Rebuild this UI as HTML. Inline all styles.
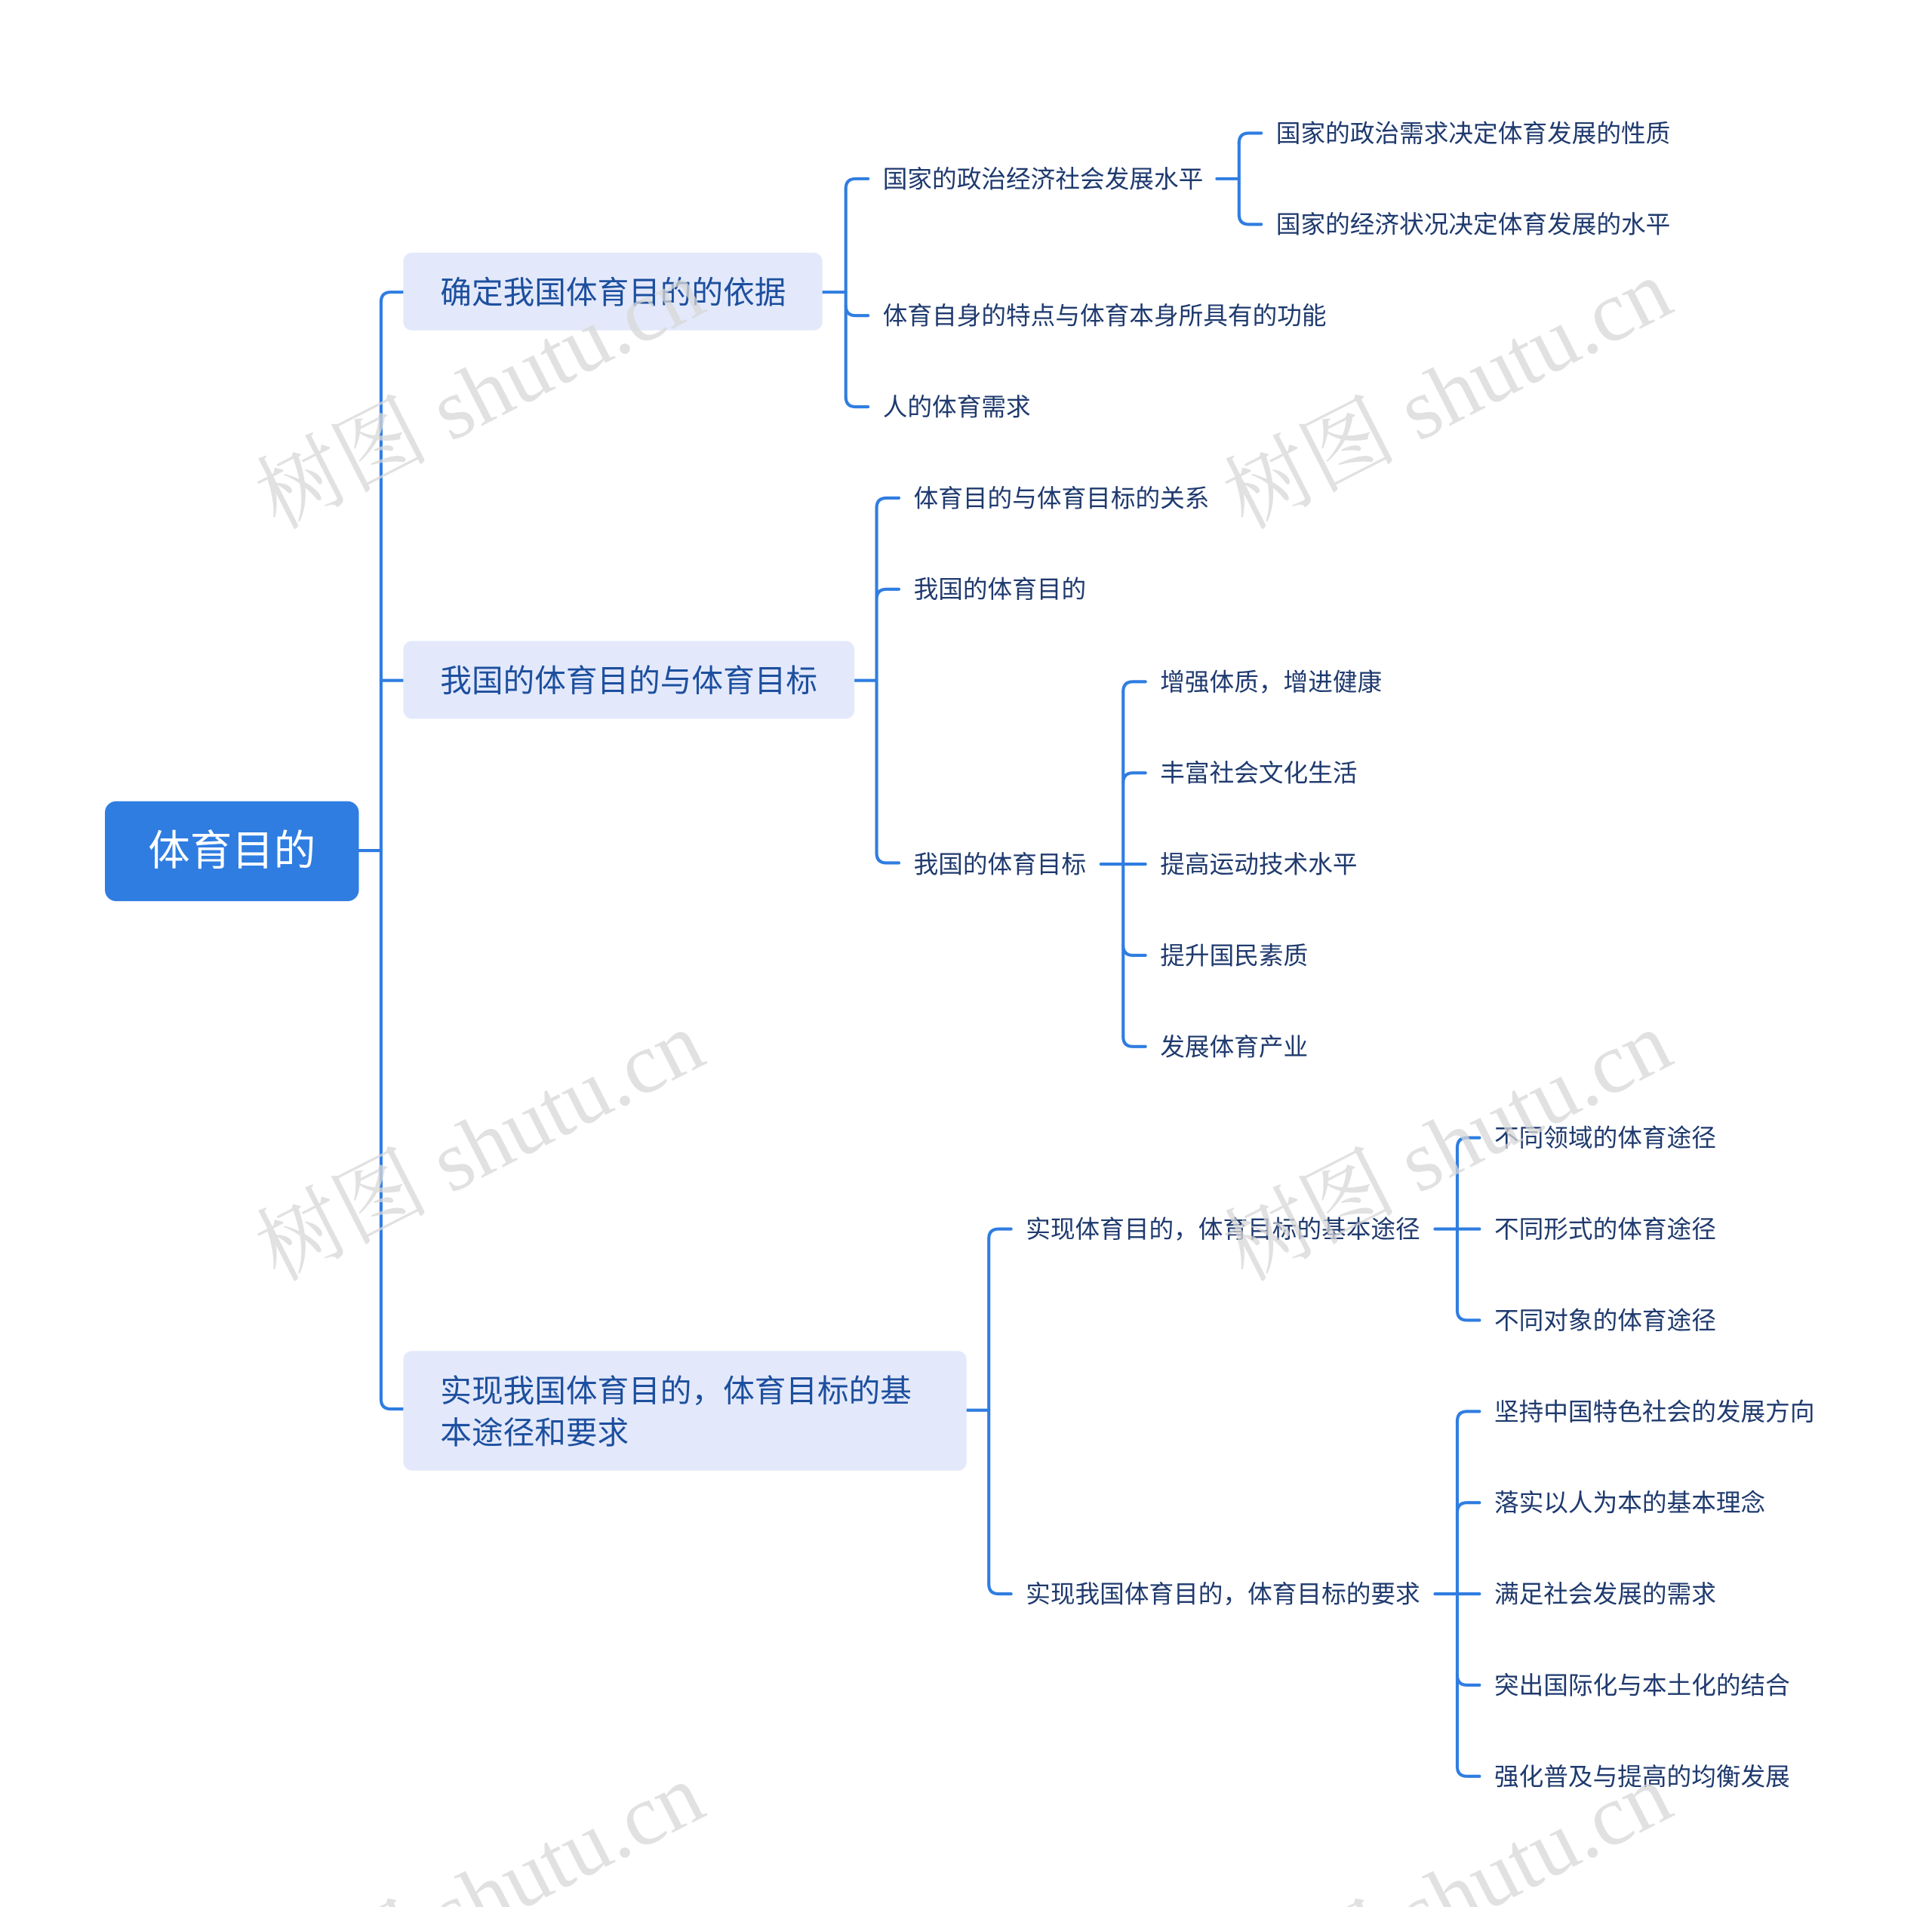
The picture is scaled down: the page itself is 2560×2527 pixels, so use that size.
<!DOCTYPE html>
<html><head><meta charset="utf-8"><style>
html,body{margin:0;padding:0;background:#fff;width:2560px;height:2527px;overflow:hidden;}
svg{display:block;}
text{font-family:"Liberation Sans","Noto Sans CJK SC",sans-serif;}
.l1{font-size:25.5px;fill:#1d4f9e;}
.l2{font-size:20px;fill:#1f3a6e;}
.wm text{font-family:"Liberation Serif","Noto Serif CJK SC",serif;font-size:70px;fill:#d8d8d8;opacity:.75;}
</style></head><body>
<svg width="2560" height="2527" viewBox="0 0 1567 1547" xmlns="http://www.w3.org/2000/svg">
<g fill="none" stroke="#2f7de1" stroke-width="2.5" stroke-linecap="round">
<path d="M291 690 H309"/>
<path d="M309 245 V1135"/>
<path d="M309 245 Q309 237 317 237 H327"/>
<path d="M309 552 H327"/>
<path d="M309 1135 Q309 1143 317 1143 H327"/>
<path d="M667 237 H686"/>
<path d="M686 153 V322"/>
<path d="M686 153 Q686 145 694 145 H704"/>
<path d="M686 248 Q686 256 694 256 H704"/>
<path d="M686 322 Q686 330 694 330 H704"/>
<path d="M987 145 H1005"/>
<path d="M1005 116 V174"/>
<path d="M1005 116 Q1005 108 1013 108 H1023"/>
<path d="M1005 174 Q1005 182 1013 182 H1023"/>
<path d="M693 552 H711"/>
<path d="M711 412 V692"/>
<path d="M711 412 Q711 404 719 404 H729"/>
<path d="M711 486 Q711 478 719 478 H729"/>
<path d="M711 692 Q711 700 719 700 H729"/>
<path d="M893 701 H911"/>
<path d="M911 561 V841"/>
<path d="M911 561 Q911 553 919 553 H929"/>
<path d="M911 635 Q911 627 919 627 H929"/>
<path d="M911 701 H929"/>
<path d="M911 767 Q911 775 919 775 H929"/>
<path d="M911 841 Q911 849 919 849 H929"/>
<path d="M784 1144 H802"/>
<path d="M802 1005 V1285"/>
<path d="M802 1005 Q802 997 810 997 H820"/>
<path d="M802 1285 Q802 1293 810 1293 H820"/>
<path d="M1164 997 H1182"/>
<path d="M1182 931 V1063"/>
<path d="M1182 931 Q1182 923 1190 923 H1200"/>
<path d="M1182 997 H1200"/>
<path d="M1182 1063 Q1182 1071 1190 1071 H1200"/>
<path d="M1164 1293 H1182"/>
<path d="M1182 1153 V1433"/>
<path d="M1182 1153 Q1182 1145 1190 1145 H1200"/>
<path d="M1182 1227 Q1182 1219 1190 1219 H1200"/>
<path d="M1182 1293 H1200"/>
<path d="M1182 1359 Q1182 1367 1190 1367 H1200"/>
<path d="M1182 1433 Q1182 1441 1190 1441 H1200"/>
</g>
<rect x="85" y="650" width="206" height="81" rx="9" fill="#2f7de1"/>
<text x="188" y="702" font-size="34" fill="#fff" text-anchor="middle">体育目的</text>
<rect x="327" y="205" width="340" height="63" rx="7" fill="#e3e9fb"/>
<text class="l1" x="357" y="246">确定我国体育目的的依据</text>
<rect x="327" y="520" width="366" height="63" rx="7" fill="#e3e9fb"/>
<text class="l1" x="357" y="561">我国的体育目的与体育目标</text>
<rect x="327" y="1096" width="457" height="97" rx="7" fill="#e3e9fb"/>
<text class="l1" x="357" y="1137">实现我国体育目的，体育目标的基</text>
<text class="l1" x="357" y="1171">本途径和要求</text>
<g class="l2">
<text x="716" y="152">国家的政治经济社会发展水平</text>
<text x="1035" y="115">国家的政治需求决定体育发展的性质</text>
<text x="1035" y="189">国家的经济状况决定体育发展的水平</text>
<text x="716" y="263">体育自身的特点与体育本身所具有的功能</text>
<text x="716" y="337">人的体育需求</text>
<text x="741" y="411">体育目的与体育目标的关系</text>
<text x="741" y="485">我国的体育目的</text>
<text x="741" y="708">我国的体育目标</text>
<text x="941" y="560">增强体质，增进健康</text>
<text x="941" y="634">丰富社会文化生活</text>
<text x="941" y="708">提高运动技术水平</text>
<text x="941" y="782">提升国民素质</text>
<text x="941" y="856">发展体育产业</text>
<text x="832" y="1004">实现体育目的，体育目标的基本途径</text>
<text x="832" y="1300">实现我国体育目的，体育目标的要求</text>
<text x="1212" y="930">不同领域的体育途径</text>
<text x="1212" y="1004">不同形式的体育途径</text>
<text x="1212" y="1078">不同对象的体育途径</text>
<text x="1212" y="1152">坚持中国特色社会的发展方向</text>
<text x="1212" y="1226">落实以人为本的基本理念</text>
<text x="1212" y="1300">满足社会发展的需求</text>
<text x="1212" y="1374">突出国际化与本土化的结合</text>
<text x="1212" y="1448">强化普及与提高的均衡发展</text>
</g>
<g class="wm">
<text transform="translate(225,430) rotate(-27)">树图 shutu.cn</text>
<text transform="translate(1010,430) rotate(-27)">树图 shutu.cn</text>
<text transform="translate(225,1040) rotate(-27)">树图 shutu.cn</text>
<text transform="translate(1010,1040) rotate(-27)">树图 shutu.cn</text>
<text transform="translate(225,1650) rotate(-27)">树图 shutu.cn</text>
<text transform="translate(1010,1650) rotate(-27)">树图 shutu.cn</text>
</g>
</svg>
</body></html>
